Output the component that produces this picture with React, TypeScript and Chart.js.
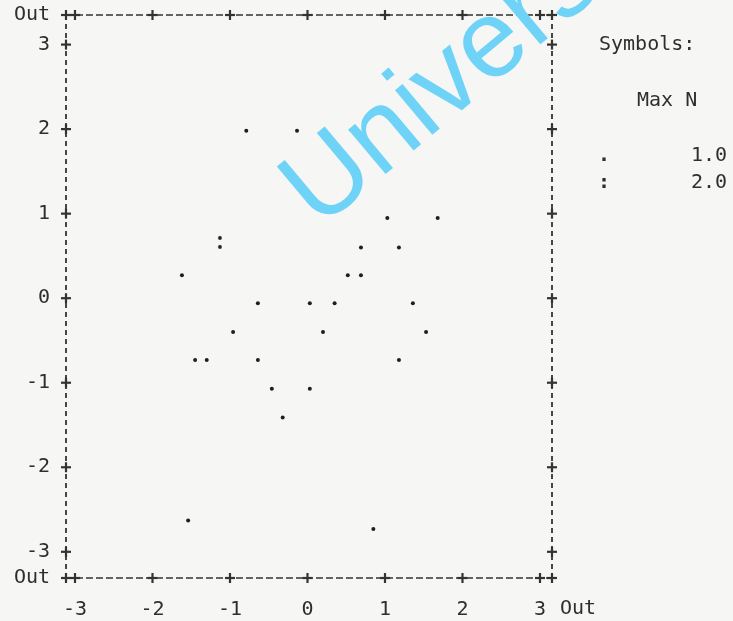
import { useEffect, useRef } from 'react';
import { Chart, registerables } from 'chart.js';

Chart.register(...registerables);

// ---- data ----
const xTickValues = [-3, -2, -1, 0, 1, 2, 3];
const yTickValues = [-3, -2, -1, 0, 1, 2, 3];
const xMin = -3.116;
const xMax = 3.155;
const yMin = -3.31;
const yMax = 3.35;
const outLabel = 'Out';

// cells holding one case (symbol ".")
const singleX = [-0.79, -0.135, 1.03, 1.68, 0.69, 1.18, -1.62, 0.52, 0.69, -0.64, 0.03, 0.35, 1.36, -0.96, 0.2, 1.53, -1.45, -1.3, -0.64, 1.18, -0.46, 0.03, -0.32, -1.54, 0.85];
const singleY = [1.98, 1.98, 0.95, 0.95, 0.6, 0.6, 0.27, 0.27, 0.27, -0.06, -0.06, -0.06, -0.06, -0.4, -0.4, -0.4, -0.73, -0.73, -0.73, -0.73, -1.07, -1.07, -1.41, -2.63, -2.73];
// cells holding two cases (symbol ":")
const doubleX = [-1.13];
const doubleY = [0.66];

const legendTitle = 'Symbols:';
const legendHeader = 'Max N';
const legendSymbols = ['.', ':'];
const legendValues = ['1.0', '2.0'];
const watermarkText = 'University';

const FONT = '"DejaVu Sans Mono", monospace';
const INK = '#2e2e2e';
const FS = 20;

function makeColon(): HTMLCanvasElement {
  const c = document.createElement('canvas');
  c.width = 6;
  c.height = 15;
  const g = c.getContext('2d')!;
  g.fillStyle = '#1e1e1e';
  g.beginPath();
  g.arc(3, 3, 1.9, 0, Math.PI * 2);
  g.fill();
  g.beginPath();
  g.arc(3, 12, 1.9, 0, Math.PI * 2);
  g.fill();
  return c;
}

const framePlugin = {
  id: 'textFrame',
  beforeDatasetsDraw(chart: any) {
    const { ctx, chartArea } = chart;
    const { left, right, top, bottom } = chartArea;
    const xs = chart.scales.x;
    const ys = chart.scales.y;
    ctx.save();
    ctx.strokeStyle = '#333333';
    const line = (x1: number, y1: number, x2: number, y2: number) => {
      ctx.beginPath();
      ctx.moveTo(x1, y1);
      ctx.lineTo(x2, y2);
      ctx.stroke();
    };
    ctx.lineWidth = 1.3;
    ctx.setLineDash([7, 3]);
    line(left, top, right, top);
    line(left, bottom, right, bottom);
    ctx.lineWidth = 1.8;
    ctx.setLineDash([5, 4]);
    line(left, top, left, bottom);
    line(right, top, right, bottom);
    ctx.setLineDash([]);
    ctx.lineWidth = 2.2;
    const plus = (cx: number, cy: number) => {
      line(cx - 5, cy, cx + 5, cy);
      line(cx, cy - 5, cx, cy + 5);
    };
    plus(left, top);
    plus(right, top);
    plus(left, bottom);
    plus(right, bottom);
    xTickValues.forEach((v) => {
      const px = xs.getPixelForValue(v);
      plus(px, top);
      plus(px, bottom);
    });
    yTickValues.forEach((v) => {
      const py = ys.getPixelForValue(v);
      plus(left, py);
      plus(right, py);
    });
    ctx.restore();
  },
  afterDraw(chart: any) {
    const { ctx, chartArea } = chart;
    const { right, bottom } = chartArea;
    const ys = chart.scales.y;
    ctx.save();
    ctx.fillStyle = INK;
    ctx.font = `${FS}px ${FONT}`;
    ctx.textBaseline = 'middle';
    ctx.textAlign = 'left';
    // "Out" at the end of the x axis labels
    ctx.fillText(outLabel, right + 8, bottom + 31);
    // legend
    const lx = right + 47;
    ctx.fillText(legendTitle, lx, ys.getPixelForValue(3));
    ctx.fillText(legendHeader, lx + 38, ys.getPixelForValue(2.34));
    const rowY = [ys.getPixelForValue(1.69), ys.getPixelForValue(1.37)];
    legendSymbols.forEach((s, i) => {
      ctx.textAlign = 'center';
      ctx.font = `bold ${FS}px ${FONT}`;
      ctx.fillText(s, lx + 5, rowY[i]);
      ctx.textAlign = 'left';
      ctx.font = `${FS}px ${FONT}`;
      ctx.fillText(legendValues[i], lx + 92, rowY[i]);
    });
    // watermark
    ctx.translate(319, 230);
    ctx.rotate((-40 * Math.PI) / 180);
    ctx.fillStyle = '#6fd3f7';
    ctx.font = '110px "Liberation Sans", Arial, sans-serif';
    ctx.textAlign = 'left';
    ctx.textBaseline = 'alphabetic';
    ctx.fillText(watermarkText, 0, 0);
    ctx.restore();
  },
};

export default function App() {
  const ref = useRef<HTMLCanvasElement>(null);
  useEffect(() => {
    document.body.style.margin = '0';
    const colon = makeColon();
    const chart = new Chart(ref.current!, {
      type: 'scatter',
      data: {
        datasets: [
          {
            label: '1',
            data: singleX.map((x, i) => ({ x, y: singleY[i] })),
            pointStyle: 'circle',
            pointRadius: 2,
            backgroundColor: '#1e1e1e',
            borderWidth: 0,
          },
          {
            label: '2',
            data: doubleX.map((x, i) => ({ x, y: doubleY[i] })),
            pointStyle: colon as any,
            pointRadius: 5,
            backgroundColor: '#1e1e1e',
            borderWidth: 0,
          },
        ],
      },
      options: {
        animation: false,
        responsive: false,
        events: [],
        layout: { padding: { left: 0, top: 15, right: 181, bottom: 0 } },
        plugins: { legend: { display: false }, tooltip: { enabled: false } },
        scales: {
          x: {
            type: 'linear',
            min: xMin,
            max: xMax,
            grid: { display: false, drawTicks: false },
            border: { display: false },
            afterBuildTicks: (s: any) => {
              s.ticks = xTickValues.map((v) => ({ value: v }));
            },
            afterFit: (s: any) => {
              s.height = 43;
              s.paddingLeft = 0;
              s.paddingRight = 0;
            },
            ticks: {
              autoSkip: false,
              maxRotation: 0,
              padding: 20,
              color: INK,
              font: { family: FONT, size: FS },
              callback: (v: any) => String(v),
            },
          },
          y: {
            type: 'linear',
            min: yMin,
            max: yMax,
            grid: { display: false, drawTicks: false },
            border: { display: false },
            afterBuildTicks: (s: any) => {
              s.ticks = [yMin, ...yTickValues, yMax].map((v) => ({ value: v }));
            },
            afterFit: (s: any) => {
              s.width = 66;
              s.paddingTop = 0;
              s.paddingBottom = 0;
            },
            ticks: {
              autoSkip: false,
              padding: 16,
              color: INK,
              font: { family: FONT, size: FS },
              callback: (v: any) => (v === yMin || v === yMax ? outLabel : String(v)),
            },
          },
        },
      },
      plugins: [framePlugin],
    });
    return () => chart.destroy();
  }, []);
  return (
    <div style={{ position: 'absolute', left: 0, top: 0, width: 733, height: 621, background: '#f6f6f4' }}>
      <canvas ref={ref} width={733} height={621} style={{ display: 'block' }} />
    </div>
  );
}
